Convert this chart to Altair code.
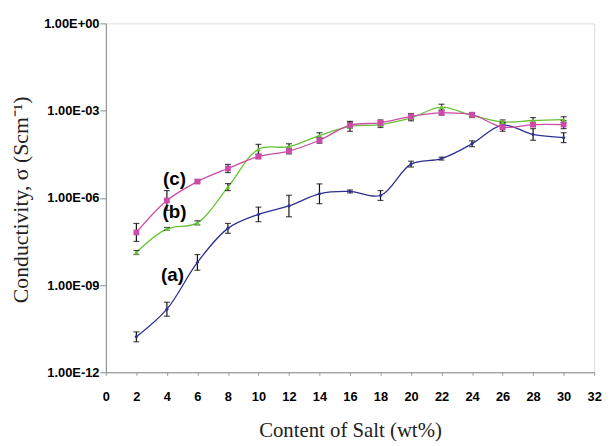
import altair as alt
import pandas as pd

salt = [2, 4, 6, 8, 10, 12, 14, 16, 18, 20, 22, 24, 26, 28, 30]

# log10 of conductivity
log_a = [-10.78, -9.83, -8.22, -7.05, -6.57, -6.28, -5.86, -5.78, -5.92, -4.84, -4.65, -4.14, -3.50, -3.82, -3.93]
log_b = [-7.88, -7.07, -6.86, -5.63, -4.33, -4.24, -3.86, -3.54, -3.48, -3.25, -2.88, -3.17, -3.39, -3.34, -3.31]
log_c = [-7.19, -6.09, -5.44, -4.99, -4.58, -4.39, -4.02, -3.50, -3.42, -3.20, -3.08, -3.14, -3.57, -3.48, -3.48]

# error half-widths in decades
err_a = [0.17, 0.24, 0.27, 0.17, 0.25, 0.37, 0.34, 0.05, 0.17, 0.10, 0.05, 0.10, 0.10, 0.20, 0.17]
err_b = [0.07, 0.05, 0.07, 0.12, 0.17, 0.10, 0.10, 0.17, 0.10, 0.10, 0.10, 0.07, 0.07, 0.10, 0.10]
err_c = [0.31, 0.34, 0.05, 0.14, 0.07, 0.10, 0.10, 0.10, 0.10, 0.10, 0.07, 0.07, 0.14, 0.07, 0.14]

series_names = ["(a)", "(b)", "(c)"]
colors = ["#2E3192", "#66C232", "#CC4AA8"]
shapes = ["diamond", "triangle-up", "square"]
sizes = [16, 34, 34]

label_x = [4.37, 4.5, 4.5]
label_log = [-8.67, -6.50, -5.37]

y_ticks = [1e-12, 1e-9, 1e-6, 1e-3, 1.0]
x_ticks = list(range(0, 33, 2))

rows = []
for name, logs, errs in zip(series_names, [log_a, log_b, log_c], [err_a, err_b, err_c]):
    for x, l, e in zip(salt, logs, errs):
        rows.append({"s": name, "x": x, "y": 10 ** l, "lo": 10 ** (l - e), "hi": 10 ** (l + e)})
df = pd.DataFrame(rows)

lab = pd.DataFrame({"s": series_names, "x": label_x, "y": [10 ** v for v in label_log]})

xscale = alt.Scale(domain=[0, 32], nice=False, zero=False)
yscale = alt.Scale(type="log", domain=[1e-12, 1], nice=False)

label_expr = ("'1.00E' + (round(log(datum.value)/LN10) >= 0 ? '+' : '-') + "
              "(abs(round(log(datum.value)/LN10)) < 10 ? '0' : '') + "
              "toString(abs(round(log(datum.value)/LN10)))")

tick_font = "Liberation Sans"

xaxis = alt.Axis(values=x_ticks, title="Content of Salt (wt%)", grid=False,
                 labelFont=tick_font, labelFontWeight="bold", labelFontSize=13,
                 labelColor="black", labelPadding=16, tickSize=3, tickColor="#999999",
                 domainColor="#888888", titleFont="Liberation Serif", titleFontSize=21,
                 titleFontWeight="normal", titleColor="#222222", titlePadding=16,
                 labelOverlap=False, labelFlush=False)
yaxis = alt.Axis(values=y_ticks, title="Conductivity, σ (Scm⁻¹)", grid=False,
                 labelExpr=label_expr, labelFont=tick_font, labelFontWeight="bold",
                 labelFontSize=13, labelColor="black", labelPadding=1, tickSize=6,
                 tickColor="#888888", domainColor="#888888", titleFont="Liberation Serif",
                 titleFontSize=22, titleFontWeight="normal", titleColor="#222222",
                 titleX=-96, titleY=178, titleBaseline="top", titleAngle=270,
                 titleAlign="center")

X = alt.X("x:Q", scale=xscale, axis=xaxis)
color = alt.Color("s:N", scale=alt.Scale(domain=series_names, range=colors), legend=None)

base = alt.Chart(df)

lines = base.mark_line(interpolate="catmull-rom", strokeWidth=1.3).encode(
    x=X,
    y=alt.Y("y:Q", scale=yscale, axis=yaxis),
    color=color,
)

errs = base.mark_errorbar(ticks=alt.MarkConfig(size=6, color="black"), color="#111111",
                          thickness=1.2).encode(
    x=X,
    y=alt.Y("lo:Q", scale=yscale, axis=yaxis),
    y2="hi:Q",
)

points = base.mark_point(filled=True, opacity=1).encode(
    x=X,
    y=alt.Y("y:Q", scale=yscale, axis=yaxis),
    color=color,
    shape=alt.Shape("s:N", scale=alt.Scale(domain=series_names, range=shapes), legend=None),
    size=alt.Size("s:N", scale=alt.Scale(domain=series_names, range=sizes), legend=None),
)

labels = alt.Chart(lab).mark_text(font="Liberation Sans", fontWeight="bold", fontSize=19,
                                  color="black").encode(
    x=X,
    y=alt.Y("y:Q", scale=yscale, axis=yaxis),
    text="s:N",
)

chart = alt.layer(lines, errs, points, labels).properties(
    width=494, height=353,
    padding={"left": 99, "top": 13, "right": 12, "bottom": 72},
    autosize=alt.AutoSizeParams(type="none"),
).configure_view(stroke="#999999", strokeWidth=1.2).configure(background="white")

chart.save("out.html", embed_options={"renderer": "svg", "actions": False})
